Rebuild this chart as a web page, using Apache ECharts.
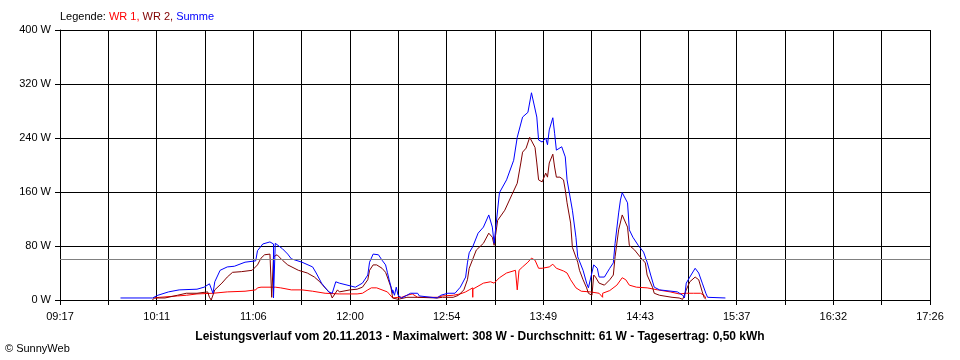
<!DOCTYPE html>
<html>
<head>
<meta charset="utf-8">
<script src="https://cdn.jsdelivr.net/npm/echarts@6/dist/echarts.min.js"></script>
<style>
html,body{margin:0;padding:0;background:#fff;}
#c{width:960px;height:360px;}
</style>
</head>
<body>
<div id="c"></div>
<script>
// ---- data ----
const axisStart = "09:17";
const axisEnd = "17:26";
const tickLabels = ["09:17","10:11","11:06","12:00","12:54","13:49","14:43","15:37","16:32","17:26"];
const yTicks = [0, 80, 160, 240, 320, 400];
const averageW = 61;

const wr1 = [["10:10",3],["10:13",4],["10:23",6],["10:28",7],["10:34",9],["10:43",10],["10:51",12],["11:01",13],["11:07",15],["11:08",18],["11:10",19],["11:18",19],["11:21",18],["11:27",15],["11:33",15],["11:39",13],["11:46",10],["11:54",9],["12:04",9],["12:07",10],["12:10",15],["12:12",18],["12:15",18],["12:18",15],["12:21",12],["12:22",9],["12:24",3],["12:27",4],["12:29",4],["12:32",7],["12:35",9],["12:38",4],["12:49",4],["12:52",6],["12:58",7],["13:02",9],["13:05",12],["13:07",15],["13:09",18],["13:09",4],["13:09",16],["13:15",25],["13:19",27],["13:21",25],["13:24",33],["13:28",40],["13:33",44],["13:34",44],["13:34",15],["13:35",44],["13:37",49],["13:40",56],["13:42",62],["13:44",59],["13:46",47],["13:48",47],["13:52",49],["13:54",53],["13:56",47],["14:00",43],["14:02",40],["14:04",30],["14:07",18],["14:10",13],["14:15",12],["14:20",10],["14:22",4],["14:22",10],["14:26",14],["14:30",22],["14:33",33],["14:35",30],["14:37",22],["14:41",19],["14:47",18],["14:53",15],["15:00",12],["15:05",9],["15:09",10],["15:13",10],["15:17",10],["15:19",7],["15:20",3]];

const wr2 = [["10:09",0],["10:10",3],["10:16",3],["10:23",7],["10:28",10],["10:34",10],["10:40",12],["10:41",4],["10:42",0],["10:44",15],["10:48",25],["10:51",34],["10:54",41],["10:59",42],["11:05",44],["11:08",52],["11:10",62],["11:12",67],["11:15",68],["11:16",68],["11:16",4],["11:17",64],["11:19",67],["11:22",59],["11:25",52],["11:31",44],["11:36",40],["11:40",34],["11:43",27],["11:46",18],["11:49",10],["11:50",3],["11:53",15],["11:54",12],["12:00",15],["12:04",16],["12:07",19],["12:10",30],["12:11",44],["12:13",52],["12:15",52],["12:18",47],["12:20",41],["12:21",34],["12:23",19],["12:24",3],["12:27",1],["12:32",4],["12:38",4],["12:39",3],["12:49",3],["12:52",4],["12:58",4],["13:01",7],["13:04",15],["13:06",30],["13:07",47],["13:11",74],["13:15",84],["13:18",99],["13:20",93],["13:21",81],["13:23",118],["13:27",133],["13:31",156],["13:34",173],["13:36",203],["13:37",219],["13:39",225],["13:41",241],["13:42",243],["13:44",226],["13:45",203],["13:46",178],["13:48",175],["13:50",188],["13:51",182],["13:52",203],["13:54",216],["13:55",197],["13:56",182],["13:58",182],["14:00",178],["14:01",163],["14:02",144],["14:04",114],["14:05",78],["14:08",56],["14:09",44],["14:11",30],["14:13",18],["14:14",10],["14:16",7],["14:17",37],["14:18",34],["14:20",25],["14:23",22],["14:26",30],["14:28",37],["14:29",64],["14:31",104],["14:33",126],["14:36",108],["14:37",81],["14:40",74],["14:43",64],["14:46",55],["14:47",37],["14:50",19],["14:51",10],["14:54",7],["15:01",4],["15:05",3],["15:07",1],["15:09",15],["15:11",27],["15:14",34],["15:16",30],["15:18",12],["15:19",4],["15:20",1]];

const summe = [["09:51",3],["10:09",3],["10:12",7],["10:18",12],["10:24",15],["10:34",16],["10:38",19],["10:41",24],["10:43",10],["10:44",27],["10:47",44],["10:51",49],["10:55",50],["11:01",56],["11:07",58],["11:08",73],["11:11",83],["11:15",86],["11:17",83],["11:17",3],["11:18",84],["11:22",76],["11:25",68],["11:27",61],["11:33",56],["11:39",49],["11:41",40],["11:44",25],["11:48",12],["11:50",10],["11:52",27],["11:54",25],["12:00",21],["12:03",19],["12:07",25],["12:10",37],["12:11",56],["12:13",68],["12:16",67],["12:18",59],["12:20",52],["12:21",41],["12:22",30],["12:24",10],["12:24",15],["12:25",7],["12:26",19],["12:27",7],["12:29",3],["12:32",7],["12:34",10],["12:38",10],["12:39",6],["12:49",3],["12:51",7],["12:55",10],["12:59",10],["13:02",19],["13:05",34],["13:06",55],["13:07",70],["13:09",79],["13:12",99],["13:15",108],["13:18",126],["13:20",108],["13:21",84],["13:24",159],["13:28",178],["13:32",207],["13:34",241],["13:37",271],["13:40",278],["13:42",307],["13:43",308],["13:45",271],["13:46",237],["13:48",234],["13:50",240],["13:51",230],["13:52",252],["13:54",270],["13:55",247],["13:56",222],["13:59",227],["14:01",212],["14:02",178],["14:05",133],["14:07",93],["14:08",64],["14:11",44],["14:13",25],["14:14",18],["14:17",52],["14:19",47],["14:20",34],["14:23",34],["14:26",47],["14:28",55],["14:29",84],["14:31",129],["14:32",148],["14:33",159],["14:36",144],["14:37",104],["14:39",93],["14:42",81],["14:45",71],["14:47",56],["14:49",37],["14:51",19],["14:54",15],["15:04",12],["15:07",7],["15:08",3],["15:09",25],["15:11",34],["15:14",47],["15:16",40],["15:18",25],["15:20",10],["15:21",4],["15:31",3]];

const legendPrefix = "Legende: ";
const seriesNames = ["WR 1", "WR 2", "Summe"];
const seriesColors = ["#ff0000", "#800000", "#0000ff"];
const footerText = "Leistungsverlauf vom 20.11.2013 - Maximalwert: 308 W - Durchschnitt: 61 W - Tagesertrag: 0,50 kWh";
const copyrightText = "\u00A9 SunnyWeb";

// ---- helpers ----
function toMin(t){ const p = t.split(":"); return (+p[0])*60 + (+p[1]); }
const startMin = toMin(axisStart);
const endMin = toMin(axisEnd);
const spanSec = (endMin - startMin) * 60;          // 29340 s
const stepSec = spanSec / ((tickLabels.length - 1) * 2); // 1630 s (label every other tick)
function toSec(t){ return (toMin(t) - startMin) * 60; }
function conv(arr){ return arr.map(d => [toSec(d[0]), d[1]]); }
function fmtTime(v){
  const m = Math.round(startMin + v / 60);
  const h = Math.floor(m / 60), mm = m % 60;
  return (h < 10 ? "0" : "") + h + ":" + (mm < 10 ? "0" : "") + mm;
}

const FONT = "'Liberation Sans', Arial, sans-serif";
const chart = echarts.init(document.getElementById('c'), null, {renderer: 'canvas'});

const mk = (name, color, data, extra) => Object.assign({
  name: name, type: 'line', data: conv(data), showSymbol: false, symbol: 'none',
  lineStyle: {color: color, width: 1}, itemStyle: {color: color},
  silent: true, animation: false
}, extra || {});

chart.setOption({
  animation: false,
  backgroundColor: '#ffffff',
  grid: {left: 60, right: 30, top: 30, bottom: 60, containLabel: false},
  xAxis: {
    type: 'value', min: 0, max: spanSec, interval: stepSec,
    axisLine: {show: true, lineStyle: {color: '#000', width: 1}},
    axisTick: {show: true, inside: false, length: 5, lineStyle: {color: '#000', width: 1}},
    splitLine: {show: true, lineStyle: {color: '#000', width: 1, type: 'solid'}},
    axisLabel: {
      show: true, margin: 11, color: '#000', fontFamily: FONT, fontSize: 11,
      formatter: function(v){
        const k = Math.round(v / stepSec);
        return (k % 2 === 0) ? tickLabels[k / 2] : '';
      }
    }
  },
  yAxis: {
    type: 'value', min: yTicks[0], max: yTicks[yTicks.length-1], interval: yTicks[1] - yTicks[0],
    axisLine: {show: true, lineStyle: {color: '#000', width: 1}},
    axisTick: {show: true, inside: false, length: 5, lineStyle: {color: '#000', width: 1}},
    splitLine: {show: true, lineStyle: {color: '#000', width: 1, type: 'solid'}},
    axisLabel: {show: true, margin: 9, color: '#000', fontFamily: FONT, fontSize: 11,
      formatter: v => v + ' W'}
  },
  series: [
    mk(seriesNames[0], seriesColors[0], wr1, {
      markLine: {silent: true, symbol: 'none', animation: false,
        label: {show: false},
        lineStyle: {color: '#808080', width: 1, type: 'solid'},
        data: [{yAxis: averageW}]}
    }),
    mk(seriesNames[1], seriesColors[1], wr2),
    mk(seriesNames[2], seriesColors[2], summe)
  ],
  graphic: [
    {type: 'text', left: 60, top: 11, silent: true,
      style: {
        text: legendPrefix + '{a|' + seriesNames[0] + ',} {b|' + seriesNames[1] + ',} {c|' + seriesNames[2] + '}',
        font: '11px ' + FONT, fill: '#000',
        rich: {
          a: {fill: seriesColors[0], font: '11px ' + FONT},
          b: {fill: seriesColors[1], font: '11px ' + FONT},
          c: {fill: seriesColors[2], font: '11px ' + FONT}
        }
      }},
    {type: 'text', x: 480, y: 337, silent: true,
      style: {text: footerText, font: 'bold 12px ' + FONT, fill: '#000', textAlign: 'center', textVerticalAlign: 'middle'}},
    {type: 'text', x: 5, y: 349, silent: true,
      style: {text: copyrightText, font: '11px ' + FONT, fill: '#000', textAlign: 'left', textVerticalAlign: 'middle'}}
  ]
});
</script>
</body>
</html>
